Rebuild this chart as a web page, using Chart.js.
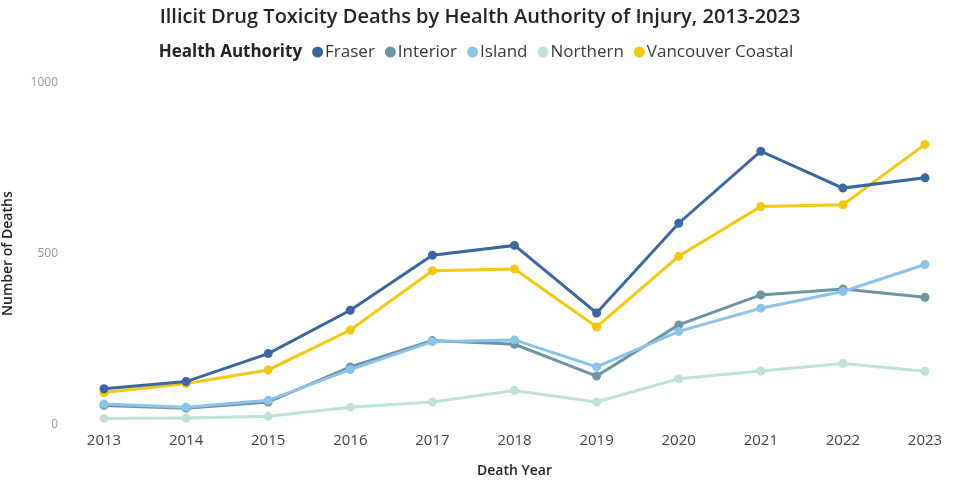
<!DOCTYPE html>
<html>
<head>
<meta charset="utf-8">
<script src="https://cdn.jsdelivr.net/npm/chart.js@4.4.1/dist/chart.umd.min.js"></script>
<style>
html,body{margin:0;padding:0;background:#fff;}
#wrap{width:960px;height:481px;position:relative;}
</style>
</head>
<body>
<div id="wrap"><canvas id="c" width="960" height="481"></canvas></div>
<script>
const years = ["2013","2014","2015","2016","2017","2018","2019","2020","2021","2022","2023"];
const fraser = [104, 125, 207, 334, 495, 524, 326, 589, 800, 692, 722];
const interior = [55, 47, 65, 168, 245, 234, 141, 291, 379, 396, 372];
const island = [59, 50, 70, 160, 242, 247, 168, 272, 340, 389, 468];
const northern = [17, 18, 23, 50, 65, 99, 65, 133, 156, 178, 155];
const vancouverCoastal = [93, 119, 159, 276, 450, 455, 285, 492, 638, 643, 820];
const yTicks = [0, 500, 1000];

const chartTitle = "Illicit Drug Toxicity Deaths by Health Authority of Injury, 2013-2023";
const legendTitle = "Health Authority";
const seriesNames = ["Fraser","Interior","Island","Northern","Vancouver Coastal"];
const seriesColors = ["#3A67A2","#6E95A3","#8DC3EB","#BFE3D3","#F2C811"];
const seriesData = [fraser, interior, island, northern, vancouverCoastal];

const FONT = "'Segoe UI', 'Open Sans', sans-serif";

const headerPlugin = {
  id: 'header',
  afterDraw(chart) {
    const ctx = chart.ctx;
    ctx.save();
    ctx.textBaseline = 'middle';
    // title
    ctx.font = "600 20px " + FONT;
    ctx.fillStyle = "#252423";
    ctx.textAlign = 'center';
    ctx.fillText(chartTitle, 480, 17);
    // legend
    const y = 52;
    ctx.textAlign = 'left';
    ctx.font = "bold 17px " + FONT;
    const tw = ctx.measureText(legendTitle).width;
    ctx.font = "17px " + FONT;
    const r = 5.5, gapCircle = 2, gapItem = 10, gapTitle = 10;
    let total = tw + gapTitle;
    const widths = seriesNames.map(n => ctx.measureText(n).width);
    widths.forEach((w, i) => { total += 2*r + gapCircle + w + (i < widths.length-1 ? gapItem : 0); });
    let x = 476 - total/2;
    ctx.font = "bold 17px " + FONT;
    ctx.fillStyle = "#252423";
    ctx.fillText(legendTitle, x, y);
    x += tw + gapTitle;
    ctx.font = "17px " + FONT;
    seriesNames.forEach((n, i) => {
      ctx.beginPath();
      ctx.arc(x + r, y, r, 0, Math.PI*2);
      ctx.fillStyle = seriesColors[i];
      ctx.fill();
      x += 2*r + gapCircle;
      ctx.fillStyle = "#3b3a39";
      ctx.fillText(n, x, y);
      x += widths[i] + gapItem;
    });
    ctx.restore();
  }
};

const order = [3, 1, 2, 4, 0];
const datasets = seriesNames.map((n, i) => ({
  label: n,
  data: seriesData[i],
  borderColor: seriesColors[i],
  backgroundColor: seriesColors[i],
  borderWidth: 3,
  pointRadius: 3,
  pointHoverRadius: 3,
  tension: 0,
  order: 10 - order.indexOf(i)
}));

new Chart(document.getElementById('c'), {
  type: 'line',
  data: { labels: years, datasets },
  plugins: [headerPlugin],
  options: {
    responsive: false,
    animation: false,
    layout: { padding: { left: 0, right: 35, top: 83, bottom: 2 } },
    plugins: {
      legend: { display: false },
      tooltip: { enabled: false },
      title: { display: false }
    },
    scales: {
      x: {
        offset: false,
        grid: { display: false, drawTicks: false },
        border: { display: false },
        ticks: { color: "#444", font: { family: FONT, size: 15 }, padding: 8, maxRotation: 0 },
        title: { display: true, text: "Death Year", color: "#252423", font: { family: FONT, size: 14, weight: '600' }, padding: { top: 4, bottom: 0 } }
      },
      y: {
        min: 0, max: 1000,
        afterBuildTicks(scale) { scale.ticks = yTicks.map(v => ({ value: v })); },
        afterFit(scale) { scale.width = 104; },
        grid: { display: false, drawTicks: false },
        border: { display: false },
        ticks: { color: "#999", font: { family: FONT, size: 12 }, padding: 46, callback: v => String(v) },
        title: { display: true, text: "Number of Deaths", color: "#252423", font: { family: FONT, size: 14, weight: '600' }, padding: { top: 0, bottom: 0 } }
      }
    }
  }
});
</script>
</body>
</html>
